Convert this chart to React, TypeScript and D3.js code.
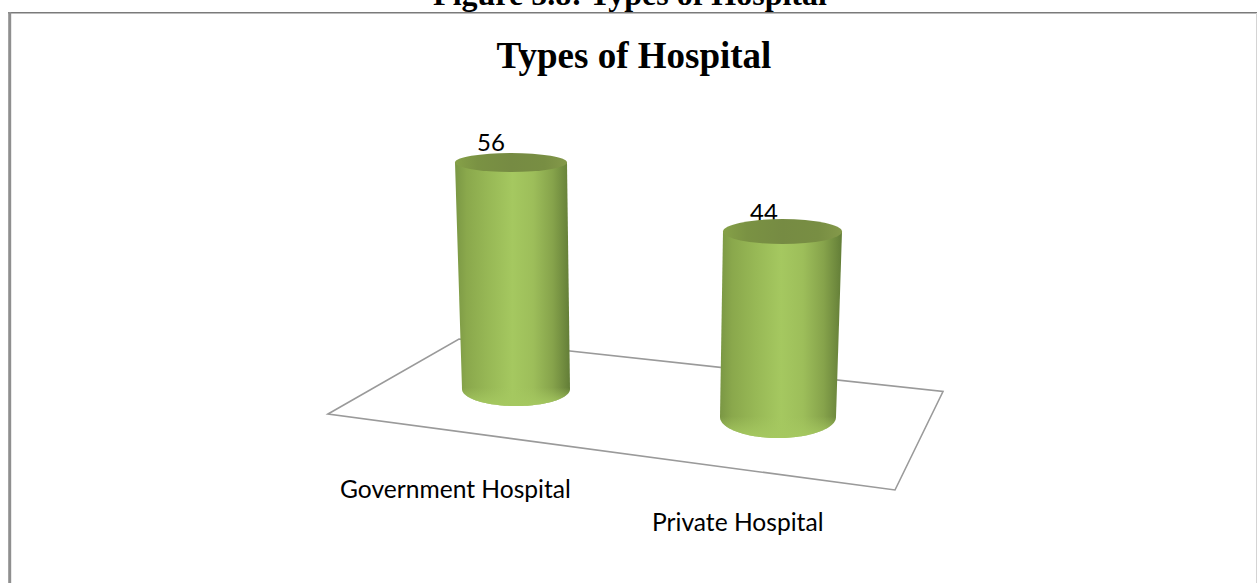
import React from "react";
import * as d3 from "d3";

const categories = ["Government Hospital", "Private Hospital"];
const values = [56, 44];
const chartTitle = "Types of Hospital";
const figureCaption = "Figure 5.8: Types of Hospital";

const W = 1257, H = 583;

// perspective layout of each cylinder, per category (pixels)
const layout = [
  { topL: 455, topR: 567, baseL: 462, baseR: 570, baseY: 389, ryTop: 9.5, ryBase: 17, unit: 4.045, labelX: 477, labelY: 151, catX: 340, catY: 498 },
  { topL: 723, topR: 842, baseL: 720, baseR: 836, baseY: 417, ryTop: 12.5, ryBase: 21, unit: 4.215, labelX: 750, labelY: 221, catX: 652, catY: 531 },
];
const floorCorners: [number, number][] = [[328, 414], [459, 339], [943, 391.5], [895, 490]];
const gradStops: [number, string][] = [
  [0, "#7a9744"], [0.1, "#8aa84c"], [0.3, "#98b956"], [0.5, "#a5c860"], [0.68, "#9dbe5a"], [0.85, "#86a34b"], [0.95, "#6f8a3e"], [1, "#627d37"],
];
const capStops: [number, string][] = [[0, "#86a148"], [0.2, "#7a9243"], [0.5, "#768b43"], [0.8, "#788e43"], [1, "#84994a"]];

function Cylinder({ i }: { i: number }) {
  const l = layout[i];
  const h = d3.scaleLinear().domain([0, 1]).range([0, l.unit])(values[i]);
  const topY = l.baseY - h;
  const cxT = (l.topL + l.topR) / 2, rxT = (l.topR - l.topL) / 2;
  const cxB = (l.baseL + l.baseR) / 2, rxB = (l.baseR - l.baseL) / 2;
  const arc = d3.range(0, 61).map((k) => {
    const t = Math.PI - (k / 60) * Math.PI;
    return [cxB + rxB * Math.cos(t), l.baseY + l.ryBase * Math.sin(t)] as [number, number];
  });
  const body = d3.path();
  body.moveTo(l.topL, topY);
  body.lineTo(l.baseL, l.baseY);
  arc.forEach((p) => body.lineTo(p[0], p[1]));
  body.lineTo(l.topR, topY);
  body.closePath();
  const rim = d3.path();
  const yy = l.baseY - 6;
  rim.moveTo(l.baseL - 0.2, yy);
  rim.lineTo(l.baseL, l.baseY);
  arc.forEach((p) => rim.lineTo(p[0], p[1]));
  rim.lineTo(l.baseR + 0.2, yy);
  rim.closePath();
  return (
    <g>
      <text x={l.labelX} y={l.labelY} fontFamily="Lato, 'Open Sans', sans-serif" fontSize={24} fill="#000">{values[i]}</text>
      <path d={body.toString()} fill={`url(#cyl${i})`} />
      <path d={rim.toString()} fill="url(#rim)" />
      <ellipse cx={cxT} cy={topY} rx={rxT} ry={l.ryTop} fill="url(#cap)" />
    </g>
  );
}

export default function App() {
  const floor = d3.line()(floorCorners) + "Z";
  return (
    <svg width={W} height={H} viewBox={`0 0 ${W} ${H}`} style={{ position: "absolute", left: 0, top: 0, background: "#fff" }}>
      <defs>
        {layout.map((l, i) => (
          <linearGradient key={i} id={`cyl${i}`} gradientUnits="objectBoundingBox" x1="0" x2="1" y1="0" y2="0">
            {gradStops.map(([o, c]) => <stop key={o} offset={o} stopColor={c} />)}
          </linearGradient>
        ))}
        <linearGradient id="rim" x1="0" x2="0" y1="0" y2="1">
          <stop offset="0.2" stopColor="#a5c860" stopOpacity={0} />
          <stop offset="0.85" stopColor="#a5c860" stopOpacity={0.85} />
          <stop offset="1" stopColor="#a5c860" stopOpacity={1} />
        </linearGradient>
        <linearGradient id="cap" x1="0" x2="1" y1="0" y2="0">
          {capStops.map(([o, c]) => <stop key={o} offset={o} stopColor={c} />)}
        </linearGradient>
      </defs>
      <text x={630} y={4.5} textAnchor="middle" fontFamily="'Liberation Serif', serif" fontWeight="bold" fontSize={32}>{figureCaption}</text>
      <line x1={8} x2={W} y1={12.7} y2={12.7} stroke="#7a7a7a" strokeWidth={1.6} />
      <line x1={9.7} x2={9.7} y1={12} y2={H} stroke="#8f8f8f" strokeWidth={3} />
      <line x1={1256.5} x2={1256.5} y1={13} y2={H} stroke="#d4d4d4" strokeWidth={1} />
      <text x={634} y={68} textAnchor="middle" fontFamily="'Liberation Serif', serif" fontWeight="bold" fontSize={37}>{chartTitle}</text>
      <path d={floor} fill="#fff" stroke="#9a9a9a" strokeWidth={1.6} />
      {values.map((_, i) => <Cylinder key={i} i={i} />)}
      {categories.map((c, i) => (
        <text key={c} x={layout[i].catX} y={layout[i].catY} fontFamily="Lato, 'Open Sans', sans-serif" fontSize={24.6} fill="#000">{c}</text>
      ))}
    </svg>
  );
}
